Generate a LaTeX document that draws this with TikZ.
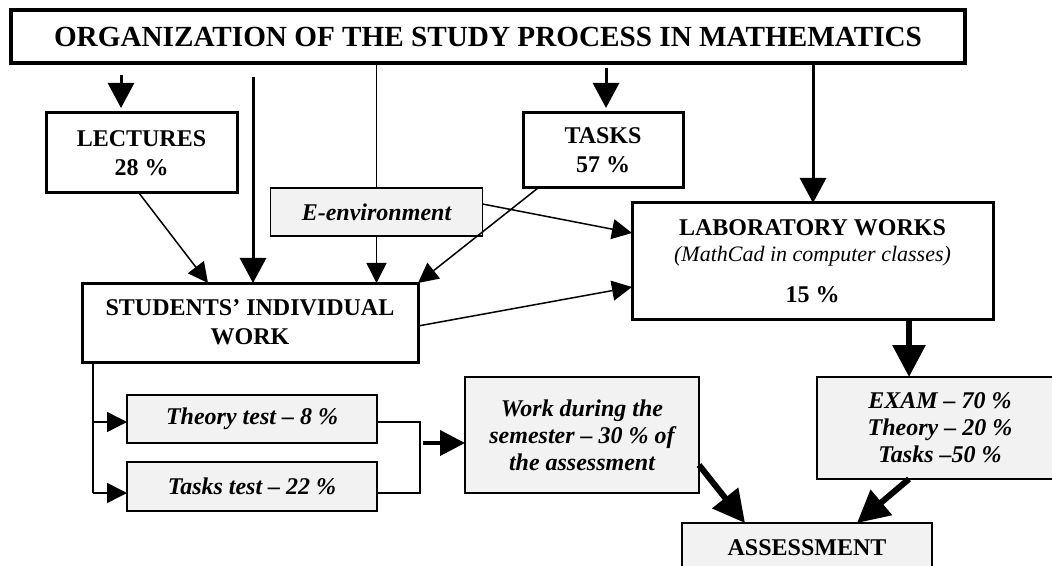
\documentclass[tikz,border=0pt]{standalone}
\usepackage{fontspec}
\setmainfont{Liberation Serif}
\usetikzlibrary{arrows.meta}
\definecolor{boxgray}{RGB}{242,242,242}
\begin{document}
\begin{tikzpicture}[x=0.5pt,y=-0.5pt,
  bx/.style={draw, line width=1.5pt, inner sep=0pt, outer sep=0pt, align=center,
    font=\bfseries\fontsize{12}{14.5}\selectfont},
  gbx/.style={draw, line width=0.75pt, fill=boxgray, inner sep=0pt, outer sep=0pt, align=center,
    font=\bfseries\itshape\fontsize{12}{13.5}\selectfont},
  ln/.style={line width=0.75pt},
  tka/.style={line width=0.75pt, -{Triangle[length=10pt,width=10pt]}},
  Tka/.style={line width=1.5pt, -{Triangle[length=12.5pt,width=13pt]}},
  Mka/.style={line width=2pt, -{Triangle[length=12.5pt,width=12.5pt]}},
  Bka/.style={line width=3pt, -{Triangle[length=16pt,width=16pt]}},
]
\useasboundingbox (0,0) rectangle (1052,566);
\clip (0,0) rectangle (1052,566);

% boxes
\node[bx, line width=2pt, minimum width=477pt, minimum height=26.5pt,
  font=\bfseries\fontsize{14.6}{17}\selectfont] (title) at (488,36.5)
  {ORGANIZATION OF THE STUDY PROCESS IN MATHEMATICS};
\node[bx, minimum width=95.5pt, minimum height=40pt] (lect) at (141.5,153) {LECTURES\\28 \%};
\node[bx, minimum width=80pt, minimum height=37.5pt] (tasks) at (603,150.5) {TASKS\\57 \%};
\node[gbx, minimum width=106pt, minimum height=24pt] (eenv) at (376.5,212) {E-environment};
\node[bx, minimum width=180.5pt, minimum height=58pt, font=\bfseries\fontsize{12}{13}\selectfont] (lab) at (812.5,261)
  {LABORATORY WORKS\\{\mdseries\itshape\fontsize{11}{13}\selectfont (MathCad in computer classes)}\\[7.5pt]15 \%};
\node[bx, minimum width=168pt, minimum height=39.5pt] (siw) at (250,322.5) {STUDENTS’ INDIVIDUAL\\WORK};
\node[gbx, minimum width=125pt, minimum height=24pt] (theory) at (252,419) {Theory test -- 8 \%};
\node[gbx, minimum width=125pt, minimum height=24.5pt] (taskst) at (252,486.5) {Tasks test -- 22 \%};
\node[gbx, minimum width=117pt, minimum height=58pt] (work) at (582,435)
  {Work during the\\semester -- 30 \% of\\the assessment};
\node[gbx, minimum width=123pt, minimum height=51pt] (exam) at (940,428)
  {EXAM -- 70 \%\\Theory -- 20 \%\\Tasks --50 \%};
\node[gbx, font=\bfseries\fontsize{12}{14}\selectfont, minimum width=125pt, minimum height=24.5pt] (assess) at (807,547.5) {ASSESSMENT};

% helper coordinates
\coordinate (lt) at (93,422);
\coordinate (lb) at (93,493);
\coordinate (rt) at (420,422);
\coordinate (rb) at (420,493);
\coordinate (rm) at (423,443);

% from title
\draw[Tka, shorten <=6pt, shorten >=2.5pt] (title.south -| 121,0) -- (lect.north -| 121,0);
\draw[Tka, shorten <=7pt] (title.south -| 253,0) -- (siw.north -| 253,0);
\draw[ln] (title.south -| eenv.north) -- (eenv.north);
\draw[Tka, shorten <=2.5pt, shorten >=2.5pt] (title.south -| 606,0) -- (tasks.north -| 606,0);
\draw[Tka] (title.south -| 813,0) -- (lab.north -| 813,0);

% into SIW
\draw[tka] (lect.south -| 139,0) -- (siw.north -| 208,0);
\draw[tka] (eenv.south) -- (siw.north -| eenv.south);
\draw[tka] (tasks.south -| 538,0) -- (siw.north east);

% into LAB
\draw[tka] (eenv.east |- 0,204) -- (lab.west |- 0,233);
\draw[tka] (siw.east |- 0,326) -- (lab.west |- 0,287);

% tests
\draw[ln] (siw.south -| lb) -- (lb);
\draw[tka] (lt) -- (lt -| theory.west);
\draw[tka] (lb) -- (lb -| taskst.west);
\draw[ln] (theory.east |- rt) -- (rt) -- (rb) -- (taskst.east |- rb);
\draw[Mka] (rm) -- (rm -| work.west);

% to exam and assessment
\draw[Bka] (lab.south -| 909,0) -- (exam.north -| 909,0);
\draw[Bka] (exam.south -| 909,0) -- (assess.north -| 857,0);
\draw[Bka] (work.east |- 0,465) -- (assess.north -| 745,0);
\end{tikzpicture}
\end{document}
